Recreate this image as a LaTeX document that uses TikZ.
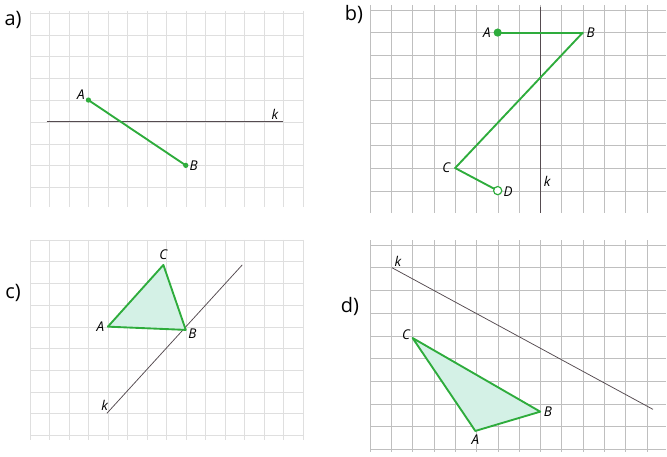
\documentclass[tikz,border=0pt]{standalone}
\usepackage{fontspec}
\setmainfont{Open Sans}
\usetikzlibrary{positioning}

\definecolor{segreen}{RGB}{46,172,60}
\definecolor{trifill}{RGB}{212,241,230}
\definecolor{kgray}{RGB}{85,75,80}

\begin{document}
\begin{tikzpicture}[
    x=0.03cm, y=-0.03cm,
    node distance=2pt,
    faint/.style={draw=gray!25, line width=0.35pt},
    sheet/.style={draw=gray!50, line width=0.4pt},
    seg/.style={draw=segreen, line width=1.6pt, line join=round, line cap=round},
    kline/.style={draw=kgray, line width=0.65pt},
    lbl/.style={font=\fontsize{11.5}{13}\selectfont\itshape, inner sep=1pt},
    panel/.style={font=\fontsize{17}{20}\selectfont, inner sep=0pt},
    dot/.style={circle, fill=segreen, inner sep=0pt, minimum size=4.5pt},
    bigdot/.style={dot, minimum size=7pt},
    odot/.style={circle, draw=segreen, fill=white, line width=1pt, inner sep=0pt, minimum size=7pt}
  ]
  \useasboundingbox (0,0) rectangle (667,457);

  \node[panel] (pa) at (13,20) {a)};
  \node[panel] (pb) at (354,15) {b)};
  \node[panel] (pc) at (13,293) {c)};
  \node[panel] (pd) at (350,307) {d)};

  % a)
  \begin{scope}[shift={(30,13)}, xscale=19.5, yscale=21.8]
    \foreach \i in {0,...,14} \draw[faint] (\i,-0.1) -- (\i,8.9);
    \foreach \j in {0,...,8} \draw[faint] (0,\j) -- (14,\j);
    \coordinate (aA) at (3,4);
    \coordinate (aB) at (8,7);
    \coordinate (ak1) at (0.85,5);
    \coordinate (ak2) at (13,5);
    \draw[kline] (ak1) -- (ak2);
    \draw[seg] (aA) -- (aB);
    \node[dot] (aAd) at (aA) {};
    \node[dot] (aBd) at (aB) {};
    \node[lbl, above left=-1pt and 2pt of aA] (aAl) {A};
    \node[lbl, right=2pt of aB] (aBl) {B};
    \node[lbl, above left=1pt and 3pt of ak2] (akl) {k};
  \end{scope}

  % b)
  \begin{scope}[shift={(370,10)}, xscale=21.3, yscale=22.6]
    \foreach \i in {0,...,13} \draw[sheet] (\i,-0.2) -- (\i,9);
    \foreach \j in {0,...,8} \draw[sheet] (0,\j) -- (13.9,\j);
    \coordinate (bA) at (6,1);
    \coordinate (bB) at (10,1);
    \coordinate (bC) at (4,7);
    \coordinate (bD) at (6,8);
    \coordinate (bk1) at (8,-0.15);
    \coordinate (bk2) at (8,9);
    \coordinate (bkm) at (8,7.6);
    \draw[kline] (bk1) -- (bk2);
    \foreach \a/\b in {bA/bB, bB/bC, bC/bD}
      \draw[seg] (\a) -- (\b);
    \node[bigdot] (bAd) at (bA) {};
    \node[odot] (bDd) at (bD) {};
    \node[lbl, left=1pt of bAd] (bAl) {A};
    \node[lbl, right=2pt of bB] (bBl) {B};
    \node[lbl, left=3pt of bC] (bCl) {C};
    \node[lbl, right=0pt of bDd, yshift=-1pt] (bDl) {D};
    \node[lbl, right=2pt of bkm] (bkl) {k};
  \end{scope}

  % c)
  \begin{scope}[shift={(30,240)}, xscale=19.5, yscale=21.7]
    \foreach \i in {0,...,14} \draw[faint] (\i,0) -- (\i,9.2);
    \foreach \j in {0,...,9} \draw[faint] (0,\j) -- (14,\j);
    \coordinate (cA) at (4,4);
    \coordinate (cB) at (8,4.15);
    \coordinate (cC) at (6.85,1.15);
    \coordinate (ck1) at (3.95,8);
    \coordinate (ck2) at (10.9,1.15);
    \draw[kline] (ck1) -- (ck2);
    \filldraw[seg, fill=trifill] (cA) -- (cB) -- (cC) -- cycle;
    \node[lbl, left=2pt of cA] (cAl) {A};
    \node[lbl, below right=-2pt and 1pt of cB] (cBl) {B};
    \node[lbl, above=3pt of cC] (cCl) {C};
    \node[lbl, above left=1pt and -2pt of ck1] (ckl) {k};
  \end{scope}

  % d)
  \begin{scope}[shift={(370,245)}, xscale=21.3, yscale=22.7]
    \foreach \i in {0,...,13} \draw[sheet] (\i,-0.2) -- (\i,9.1);
    \foreach \j in {0,...,9} \draw[sheet] (0,\j) -- (13.9,\j);
    \coordinate (dA) at (4.95,8.2);
    \coordinate (dB) at (8,7.35);
    \coordinate (dC) at (2,4.1);
    \coordinate (dk1) at (1.03,1);
    \coordinate (dk2) at (13.3,7.25);
    \draw[kline] (dk1) -- (dk2);
    \filldraw[seg, fill=trifill] (dA) -- (dB) -- (dC) -- cycle;
    \node[lbl, above left=-3pt and 1pt of dC] (dCl) {C};
    \node[lbl, right=2pt of dB] (dBl) {B};
    \node[lbl, below=2pt of dA] (dAl) {A};
    \node[lbl, above right=0pt and 1pt of dk1] (dkl) {k};
  \end{scope}
\end{tikzpicture}
\end{document}
